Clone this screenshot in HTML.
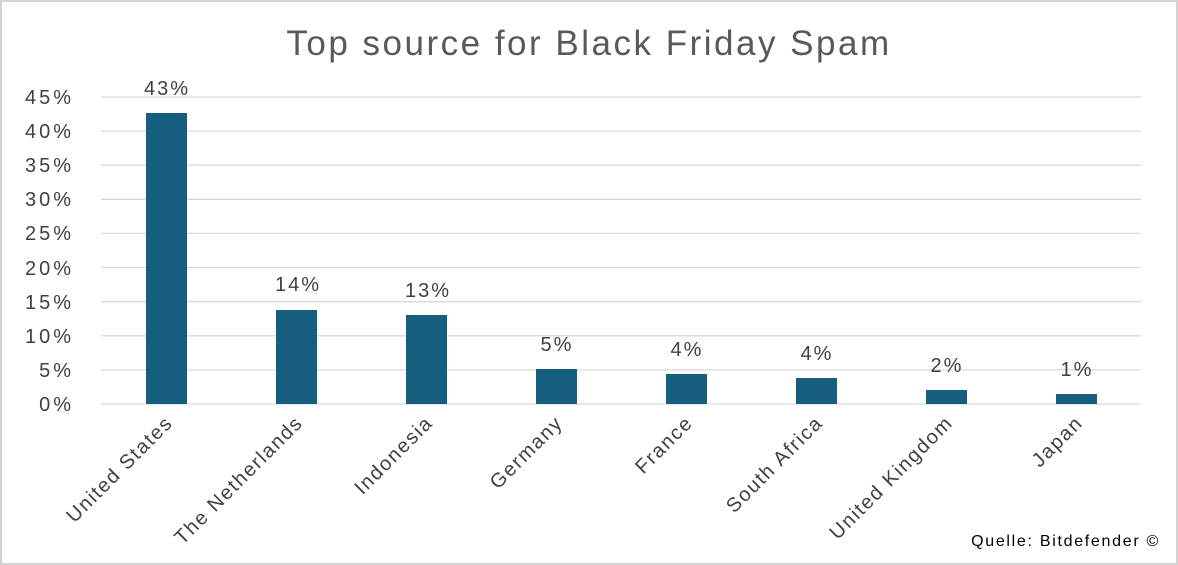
<!DOCTYPE html>
<html><head><style>
html,body{margin:0;padding:0;background:#fff}
svg{display:block}
text{font-family:"Liberation Sans",sans-serif;fill:#404040}
</style></head><body>
<svg width="1178" height="565" viewBox="0 0 1178 565">
<rect x="1" y="1" width="1176" height="563" fill="#fff" stroke="#d4d4d4" stroke-width="2"/>
<text x="589" y="55" text-anchor="middle" font-size="35" letter-spacing="2.5" style="fill:#595959">Top source for Black Friday Spam</text>
<g stroke="#d9d9d9" stroke-width="1.3">
<line x1="101" x2="1141" y1="97" y2="97"/><line x1="101" x2="1141" y1="131.1" y2="131.1"/>
<line x1="101" x2="1141" y1="165.2" y2="165.2"/><line x1="101" x2="1141" y1="199.3" y2="199.3"/>
<line x1="101" x2="1141" y1="233.4" y2="233.4"/><line x1="101" x2="1141" y1="267.6" y2="267.6"/>
<line x1="101" x2="1141" y1="301.7" y2="301.7"/><line x1="101" x2="1141" y1="335.8" y2="335.8"/>
<line x1="101" x2="1141" y1="369.9" y2="369.9"/><line x1="101" x2="1141" y1="404" y2="404"/>
</g>
<g font-size="20" text-anchor="end" letter-spacing="3">
<text x="74" y="104">45%</text><text x="74" y="138">40%</text><text x="74" y="172">35%</text>
<text x="74" y="206">30%</text><text x="74" y="240">25%</text><text x="74" y="275">20%</text>
<text x="74" y="309">15%</text><text x="74" y="343">10%</text><text x="74" y="377">5%</text>
<text x="74" y="411">0%</text>
</g>
<g fill="#165e80">
<rect x="146" y="113" width="41" height="291"/>
<rect x="276" y="310" width="41" height="94"/>
<rect x="406" y="315" width="41" height="89"/>
<rect x="536" y="369" width="41" height="35"/>
<rect x="666" y="374" width="41" height="30"/>
<rect x="796" y="378" width="41" height="26"/>
<rect x="926" y="390" width="41" height="14"/>
<rect x="1056" y="394" width="41" height="10"/>
</g>
<g font-size="20" text-anchor="middle" letter-spacing="2">
<text x="167" y="95">43%</text><text x="298" y="291">14%</text><text x="428" y="297">13%</text>
<text x="557" y="351">5%</text><text x="687" y="356">4%</text><text x="817" y="360">4%</text>
<text x="947" y="372">2%</text><text x="1077" y="376">1%</text>
</g>
<g font-size="20" text-anchor="end" letter-spacing="1.6">
<text transform="translate(174,424) rotate(-45)">United States</text>
<text transform="translate(304,424) rotate(-45)">The Netherlands</text>
<text transform="translate(434,424) rotate(-45)">Indonesia</text>
<text transform="translate(564,424) rotate(-45)">Germany</text>
<text transform="translate(694,424) rotate(-45)">France</text>
<text transform="translate(824,424) rotate(-45)">South Africa</text>
<text transform="translate(954,424) rotate(-45)">United Kingdom</text>
<text transform="translate(1084,424) rotate(-45)">Japan</text>
</g>
<text x="1160" y="546" text-anchor="end" font-size="16" letter-spacing="1.7" style="fill:#000">Quelle:  Bitdefender ©</text>
</svg>
</body></html>
